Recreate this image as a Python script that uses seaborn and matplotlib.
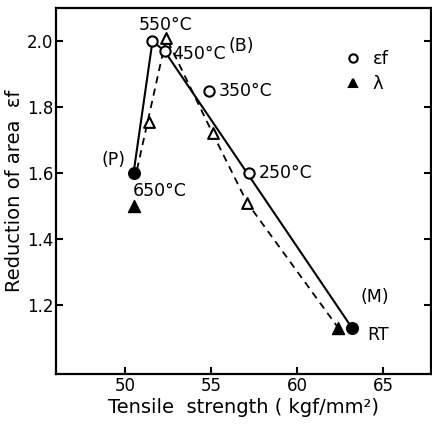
import matplotlib
matplotlib.use('Agg')
import matplotlib.pyplot as plt
import seaborn as sns
import pandas as pd
from matplotlib.lines import Line2D

sns.set_style("ticks")
plt.rcParams['font.family'] = ['DejaVu Sans']
plt.rcParams['text.color'] = 'black'
plt.rcParams['axes.labelcolor'] = 'black'

# ---- datos ----
ef_ts = [50.5, 51.6, 52.3, 54.9, 57.2, 63.2]
ef_ra = [1.60, 2.00, 1.97, 1.85, 1.60, 1.13]
ef_filled = [True, False, False, False, False, True]

lam_ts = [50.5, 51.4, 52.4, 55.1, 57.1, 62.4]
lam_val = [1.50, 1.755, 2.01, 1.72, 1.51, 1.13]
lam_filled = [True, False, False, False, False, True]

# lineas de tendencia
solid_ts = [50.5, 51.6, 52.3, 63.2]
solid_ra = [1.60, 2.00, 1.97, 1.13]
dash_ts = [50.7, 52.4, 55.1, 57.1, 62.4]
dash_val = [1.61, 2.01, 1.72, 1.51, 1.13]

# etiquetas de temperatura
labels = ['550°C', '450°C', '(B)', '350°C', '250°C', '(P)', '650°C', '(M)', 'RT']
label_x = [52.35, 52.75, 56.75, 55.45, 57.8, 50.05, 50.45, 64.5, 64.7]
label_y = [2.05, 1.96, 1.985, 1.85, 1.60, 1.64, 1.545, 1.225, 1.11]
label_ha = ['center', 'left', 'center', 'left', 'left', 'right', 'left', 'center', 'center']

df_ef = pd.DataFrame({'ts': ef_ts, 'v': ef_ra, 'filled': ef_filled})
df_lam = pd.DataFrame({'ts': lam_ts, 'v': lam_val, 'filled': lam_filled})

fig = plt.figure(figsize=(4.32, 4.28), dpi=100)
ax = fig.add_axes([0.130, 0.126, 0.868, 0.855])

sns.lineplot(x=solid_ts, y=solid_ra, sort=False, color='black', lw=1.5, ax=ax)
sns.lineplot(x=dash_ts, y=dash_val, sort=False, color='black', lw=1.3, ax=ax,
             linestyle=(0, (4, 3)))

# marcadores: abiertos y llenos
for df, mk, size in [(df_ef, 'o', 55), (df_lam, '^', 60)]:
    op = df[~df['filled']]
    fl = df[df['filled']]
    sns.scatterplot(x=op['ts'], y=op['v'], marker=mk, s=size, facecolor='white',
                    edgecolor='black', linewidth=1.5, ax=ax, zorder=3)
    sns.scatterplot(x=fl['ts'], y=fl['v'], marker=mk, s=size + 15, color='black',
                    edgecolor='black', linewidth=1, ax=ax, zorder=3)

for t, x, y, ha in zip(labels, label_x, label_y, label_ha):
    ax.text(x, y, t, ha=ha, va='center', fontsize=12.5, color='black')

handles = [Line2D([], [], marker='o', ls='none', mfc='white', mec='black', mew=1.5, ms=6),
           Line2D([], [], marker='^', ls='none', mfc='black', mec='black', mew=1.5, ms=6)]
ax.legend(handles, ['εf', 'λ'], loc='upper right', bbox_to_anchor=(0.93, 0.93),
          frameon=False, fontsize=13, handletextpad=0.6, handlelength=1.0, labelspacing=0.4)

ax.set_xlim(46.0, 67.8)
ax.set_ylim(0.99, 2.10)
ax.set_xticks([50, 55, 60, 65])
ax.set_yticks([1.2, 1.4, 1.6, 1.8, 2.0])
ax.set_yticklabels(['1.2', '1.4', '1.6', '1.8', '2.0'])
ax.tick_params(direction='in', length=5, width=1.5, labelsize=12, right=True, top=False,
               pad=2, colors='black')
for s in ax.spines.values():
    s.set_visible(True)
    s.set_linewidth(1.6)
    s.set_color('black')

ax.set_xlabel('Tensile  strength ( kgf/mm²)', fontsize=14, labelpad=2)
ax.set_ylabel('Reduction of area  εf', fontsize=14, labelpad=2)

fig.savefig('out.png', dpi=100)
